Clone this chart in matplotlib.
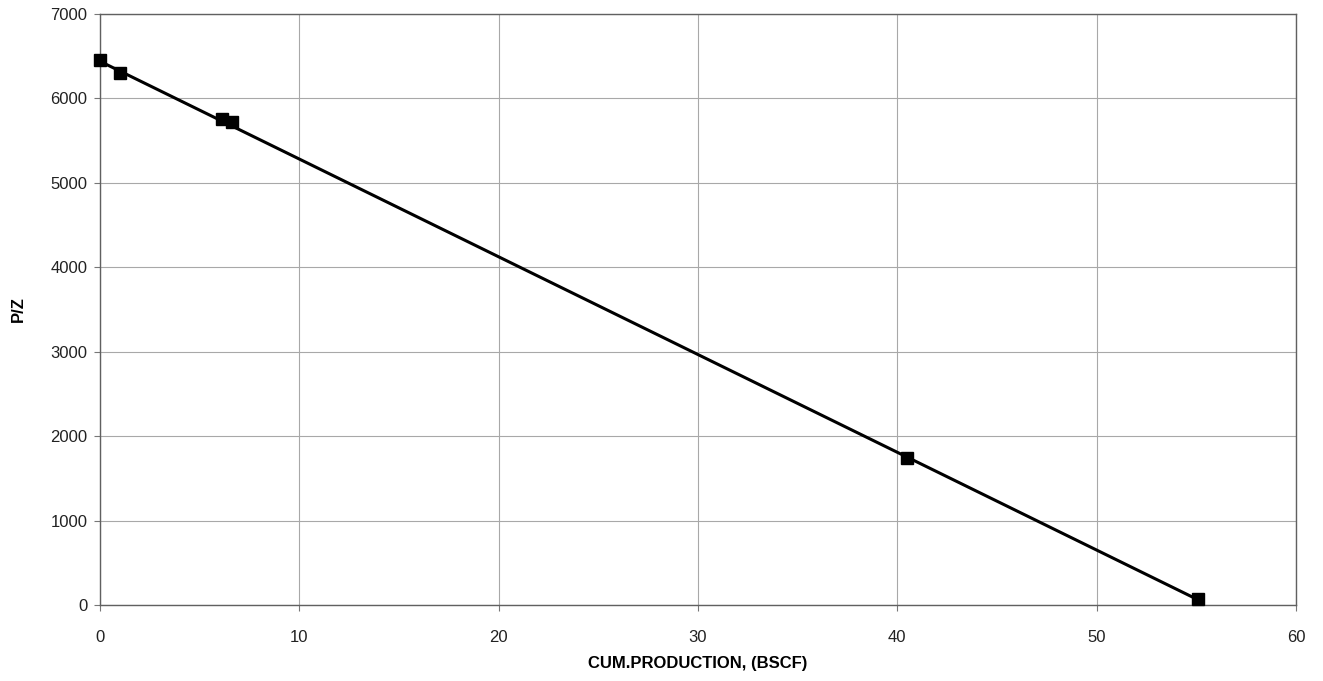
import matplotlib
matplotlib.use("Agg")
import matplotlib.pyplot as plt

plt.rcParams["font.family"] = ["Liberation Sans", "DejaVu Sans"]

# measured points
cum_prod = [0.0, 1.0, 6.1, 6.6, 40.5, 55.1]
pz = [6450, 6300, 5760, 5720, 1740, 70]

# straight-line fit
fit_x = [0.0, 55.1]
fit_y = [6440, 60]

fig = plt.figure(figsize=(13.23, 6.81), dpi=100)
ax = fig.add_axes([0.0756, 0.1116, 0.904, 0.8678])

ax.plot(fit_x, fit_y, color="black", linewidth=2.2, zorder=3)
ax.plot(cum_prod, pz, linestyle="none", marker="s", markersize=8.5,
        color="black", zorder=4, clip_on=False)

ax.set_xlim(0, 60)
ax.set_ylim(0, 7000)
ax.set_xticks(range(0, 61, 10))
ax.set_yticks(range(0, 7001, 1000))
ax.grid(True, color="#a8a8a8", linewidth=0.8)
ax.set_axisbelow(True)
for s in ax.spines.values():
    s.set_color("#606060")
    s.set_linewidth(1.0)
ax.tick_params(labelsize=12, colors="#222222", length=4, color="#777777")
ax.tick_params(axis="x", pad=14)
ax.tick_params(axis="y", pad=5)

ax.set_xlabel("CUM.PRODUCTION, (BSCF)", fontsize=12, fontweight="bold", labelpad=8)
ax.set_ylabel("P/Z", fontsize=12, fontweight="bold", labelpad=18)

fig.savefig("out.png", dpi=100)
